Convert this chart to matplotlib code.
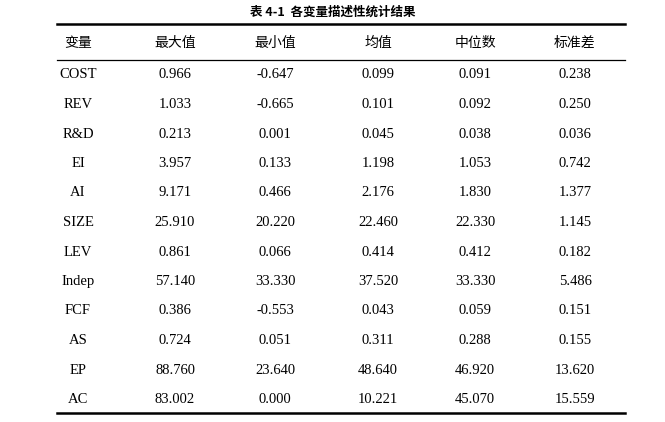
import matplotlib
matplotlib.use("Agg")
import matplotlib.pyplot as plt

title = "表 4-1  各变量描述性统计结果"
headers = ["变量", "最大值", "最小值", "均值", "中位数", "标准差"]
variables = ["COST", "REV", "R&D", "EI", "AI", "SIZE", "LEV", "Indep", "FCF", "AS", "EP", "AC"]
max_vals = ["0.966", "1.033", "0.213", "3.957", "9.171", "25.910", "0.861", "57.140", "0.386", "0.724", "88.760", "83.002"]
min_vals = ["-0.647", "-0.665", "0.001", "0.133", "0.466", "20.220", "0.066", "33.330", "-0.553", "0.051", "23.640", "0.000"]
mean_vals = ["0.099", "0.101", "0.045", "1.198", "2.176", "22.460", "0.414", "37.520", "0.043", "0.311", "48.640", "10.221"]
median_vals = ["0.091", "0.092", "0.038", "1.053", "1.830", "22.330", "0.412", "33.330", "0.059", "0.288", "46.920", "45.070"]
std_vals = ["0.238", "0.250", "0.036", "0.742", "1.377", "1.145", "0.182", "5.486", "0.151", "0.155", "13.620", "15.559"]

W, H = 665, 422
fig = plt.figure(figsize=(W/100, H/100), dpi=100)
ax = fig.add_axes([0, 0, 1, 1])
ax.set_xlim(0, W); ax.set_ylim(H, 0); ax.axis("off")

cjk = ["Noto Sans CJK SC", "DejaVu Sans"]
serif = ["Liberation Serif", "DejaVu Serif"]
ax.text(333, 12, title, ha="center", va="center", fontsize=9, family=cjk, fontweight="bold")

xl, xr = 57, 625
ax.plot([xl, xr], [24, 24], color="black", lw=1.8)
ax.plot([xl, xr], [60, 60], color="black", lw=0.9)
ax.plot([xl, xr], [413, 413], color="black", lw=1.8)

cols = [78, 175, 275, 378, 475, 575]
for x, h in zip(cols, headers):
    ax.text(x, 43, h, ha="center", va="center", fontsize=10, family=cjk)

columns = [variables, max_vals, min_vals, mean_vals, median_vals, std_vals]
y0, dy = 75, 29.5
for j, colvals in enumerate(columns):
    for i, v in enumerate(colvals):
        ax.text(cols[j], y0 + i*dy, v, ha="center", va="center", fontsize=10.5, family=serif)

fig.savefig("out.png", dpi=100)
